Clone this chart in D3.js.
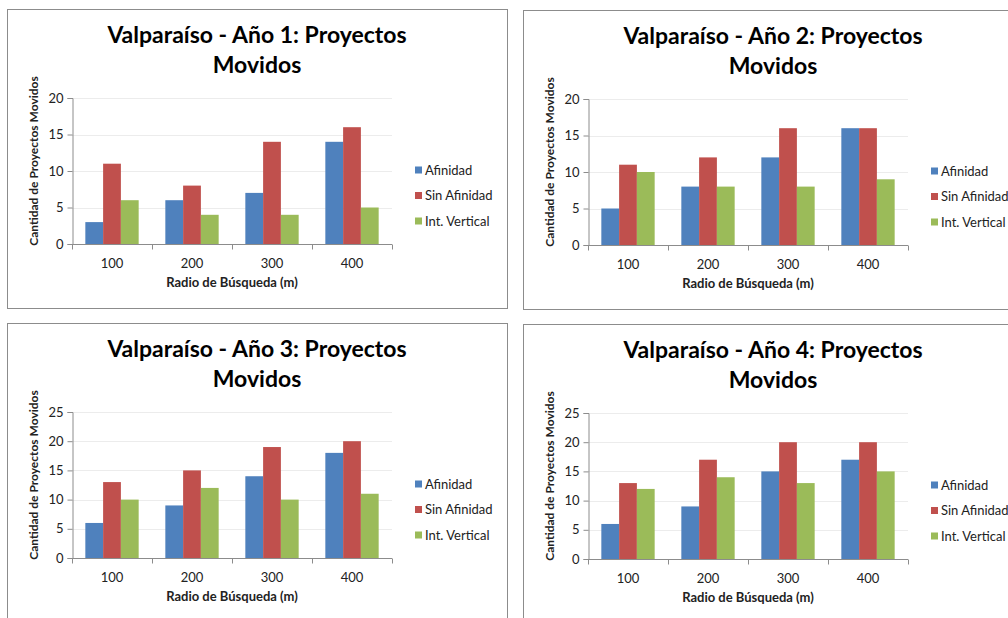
<!DOCTYPE html>
<html>
<head>
<meta charset="utf-8">
<script src="https://cdn.jsdelivr.net/npm/d3@7/dist/d3.min.js"></script>
<style>
  html, body { margin: 0; padding: 0; background: #fff; }
  svg { display: block; }
  text { font-family: Lato, "Open Sans", sans-serif; }
</style>
</head>
<body>
<svg id="chart" width="1008" height="618"></svg>
<script>
// Radio de búsqueda categories and series per year
const categories = ["100", "200", "300", "400"];
const seriesNames = ["Afinidad", "Sin Afinidad", "Int. Vertical"];
const seriesColors = ["#4F81BD", "#C0504D", "#9BBB59"];

const year1Afinidad = [3, 6, 7, 14];
const year1SinAfinidad = [11, 8, 14, 16];
const year1IntVertical = [6, 4, 4, 5];

const year2Afinidad = [5, 8, 12, 16];
const year2SinAfinidad = [11, 12, 16, 16];
const year2IntVertical = [10, 8, 8, 9];

const year3Afinidad = [6, 9, 14, 18];
const year3SinAfinidad = [13, 15, 19, 20];
const year3IntVertical = [10, 12, 10, 11];

const year4Afinidad = [6, 9, 15, 17];
const year4SinAfinidad = [13, 17, 20, 20];
const year4IntVertical = [12, 14, 13, 15];

const yTicks12 = [0, 5, 10, 15, 20];
const yTicks34 = [0, 5, 10, 15, 20, 25];

const panels = [
  { title: "Valparaíso - Año 1: Proyectos", x: 7, y: 9, max: 20, ticks: yTicks12,
    series: [year1Afinidad, year1SinAfinidad, year1IntVertical] },
  { title: "Valparaíso - Año 2: Proyectos", x: 523, y: 10, max: 20, ticks: yTicks12,
    series: [year2Afinidad, year2SinAfinidad, year2IntVertical] },
  { title: "Valparaíso - Año 3: Proyectos", x: 7, y: 323, max: 25, ticks: yTicks34,
    series: [year3Afinidad, year3SinAfinidad, year3IntVertical] },
  { title: "Valparaíso - Año 4: Proyectos", x: 523, y: 324, max: 25, ticks: yTicks34,
    series: [year4Afinidad, year4SinAfinidad, year4IntVertical] }
];

const svg = d3.select("#chart");
const W = 500, H = 299;
const plot = { left: 65, right: 385, top: 89, bottom: 235 };

function drawPanel(p) {
  const g = svg.append("g").attr("transform", `translate(${p.x},${p.y})`);

  g.append("rect")
    .attr("x", 0.5).attr("y", 0.5)
    .attr("width", W).attr("height", H)
    .attr("fill", "#fff").attr("stroke", "#8c8c8c").attr("stroke-width", 1);

  // title, two lines
  const title = g.append("text")
    .attr("text-anchor", "middle")
    .attr("font-weight", "bold")
    .attr("font-size", 23)
    .attr("fill", "#000");
  title.append("tspan").attr("x", 250).attr("y", 34).text(p.title);
  title.append("tspan").attr("x", 250).attr("y", 64).text("Movidos");

  const x0 = d3.scaleBand().domain(categories).range([plot.left, plot.right]).paddingInner(0).paddingOuter(0);
  const y = d3.scaleLinear().domain([0, p.max]).range([plot.bottom, plot.top]);
  // three bars take 3 of 4.5 bar widths in each category (gap width 150%)
  const barW = x0.bandwidth() / 4.5;
  const x1 = d3.scaleBand().domain(seriesNames)
    .range([barW * 0.75, barW * 3.75]).padding(0);

  // gridlines
  g.append("g")
    .selectAll("line")
    .data(p.ticks.filter(t => t > 0))
    .join("line")
    .attr("x1", plot.left).attr("x2", plot.right)
    .attr("y1", d => Math.round(y(d)) + 0.5).attr("y2", d => Math.round(y(d)) + 0.5)
    .attr("stroke", "#ececec").attr("stroke-width", 1);

  // bars
  const rows = categories.map((c, i) => ({ cat: c, vals: p.series.map((s, k) => ({ name: seriesNames[k], v: s[i], color: seriesColors[k] })) }));
  g.append("g")
    .selectAll("g")
    .data(rows)
    .join("g")
    .attr("transform", d => `translate(${x0(d.cat)},0)`)
    .selectAll("rect")
    .data(d => d.vals)
    .join("rect")
    .attr("x", d => x1(d.name))
    .attr("width", x1.bandwidth())
    .attr("y", d => y(d.v))
    .attr("height", d => y(0) - y(d.v))
    .attr("fill", d => d.color);

  // y axis
  const yAxis = g.append("g")
    .attr("transform", `translate(${plot.left + 0.5},0)`)
    .call(d3.axisLeft(y).tickValues(p.ticks).tickSize(5).tickPadding(4).tickFormat(d3.format("d")));
  yAxis.select(".domain").attr("stroke", "#8c8c8c");
  yAxis.selectAll(".tick line").attr("stroke", "#8c8c8c");
  yAxis.selectAll(".tick text").attr("font-size", 13).attr("fill", "#222").attr("font-family", "Lato, sans-serif");

  // x axis, ticks at category boundaries
  const xAxisG = g.append("g").attr("transform", `translate(0,${plot.bottom + 0.5})`);
  xAxisG.append("line")
    .attr("x1", plot.left).attr("x2", plot.right)
    .attr("stroke", "#8c8c8c");
  const bounds = categories.map(c => x0(c)).concat([plot.right]);
  xAxisG.selectAll("line.b")
    .data(bounds)
    .join("line")
    .attr("class", "b")
    .attr("x1", d => Math.round(d) + 0.5).attr("x2", d => Math.round(d) + 0.5)
    .attr("y1", 0).attr("y2", 5)
    .attr("stroke", "#8c8c8c");
  xAxisG.selectAll("text")
    .data(categories)
    .join("text")
    .attr("x", d => x0(d) + x0.bandwidth() / 2)
    .attr("y", 23)
    .attr("text-anchor", "middle")
    .attr("font-size", 13)
    .attr("fill", "#222")
    .text(d => d);

  // axis titles
  g.append("text")
    .attr("x", (plot.left + plot.right) / 2)
    .attr("y", 278)
    .attr("text-anchor", "middle")
    .attr("font-weight", "bold")
    .attr("font-size", 13)
    .attr("fill", "#222")
    .text("Radio de Búsqueda (m)");
  g.append("text")
    .attr("transform", `translate(31,152) rotate(-90)`)
    .attr("text-anchor", "middle")
    .attr("font-weight", "bold")
    .attr("font-size", 12)
    .attr("fill", "#222")
    .text("Cantidad de Proyectos Movidos");

  // legend
  const lg = g.append("g").selectAll("g")
    .data(seriesNames)
    .join("g")
    .attr("transform", (d, i) => `translate(408,${161 + i * 25.5})`);
  lg.append("rect")
    .attr("x", 0).attr("y", -3.5).attr("width", 7).attr("height", 7)
    .attr("fill", (d, i) => seriesColors[i]);
  lg.append("text")
    .attr("x", 10).attr("y", 4.5)
    .attr("font-size", 13)
    .attr("fill", "#222")
    .text(d => d);
}

panels.forEach(drawPanel);
</script>
</body>
</html>
